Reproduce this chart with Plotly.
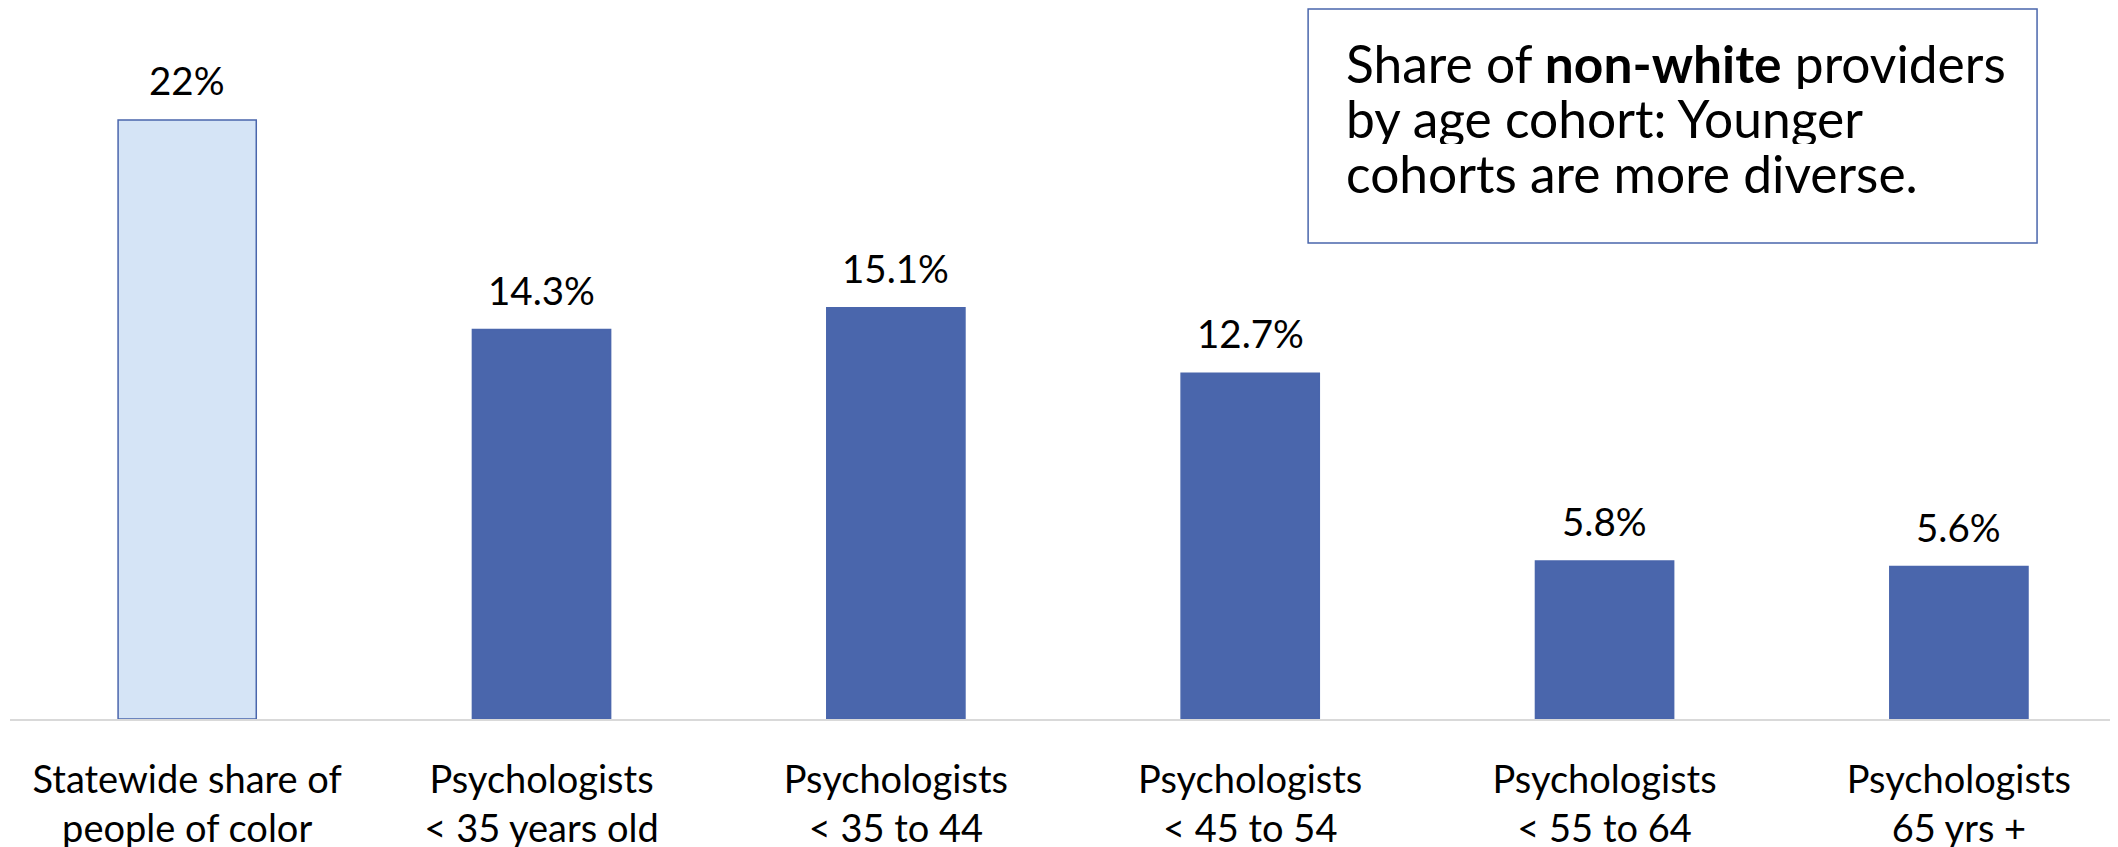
import plotly.graph_objects as go

categories = [
    "Statewide share of<br>people of color",
    "Psychologists<br>< 35 years old",
    "Psychologists<br>< 35 to 44",
    "Psychologists<br>< 45 to 54",
    "Psychologists<br>< 55 to 64",
    "Psychologists<br>65 yrs +",
]
values = [22, 14.3, 15.1, 12.7, 5.8, 5.6]
value_labels = ["22%", "14.3%", "15.1%", "12.7%", "5.8%", "5.6%"]
fill_colors = ["#D5E4F6", "#4A66AC", "#4A66AC", "#4A66AC", "#4A66AC", "#4A66AC"]
line_colors = ["#4A66AC", "#4A66AC", "#4A66AC", "#4A66AC", "#4A66AC", "#4A66AC"]
box_lines = [
    "Share of <b>non-white</b> providers",
    "by age cohort: Younger",
    "cohorts are more diverse.",
]
box_line_y = [0.9227, 0.8453, 0.7679]

FONT = "Lato"

fig = go.Figure()
fig.add_trace(go.Bar(
    x=categories,
    y=values,
    marker=dict(color=fill_colors, line=dict(color=line_colors, width=1.5)),
    width=0.39,
    hoverinfo="skip",
))

for c, v, t in zip(categories, values, value_labels):
    fig.add_annotation(x=c, y=v, text=t, showarrow=False, xref="x", yref="y",
                       yanchor="bottom", yshift=15,
                       font=dict(family=FONT, size=38.5, color="#000000"))

# text box
fig.add_shape(type="rect", xref="paper", yref="paper",
              x0=0.6158, x1=0.9616, y0=0.6695, y1=0.9986,
              line=dict(color="#4A66AC", width=1.5), fillcolor="white")
for line, ly in zip(box_lines, box_line_y):
    fig.add_annotation(xref="paper", yref="paper", x=0.6333, y=ly,
                       xanchor="left", yanchor="middle", align="left", valign="middle",
                       showarrow=False, height=52, borderpad=0,
                       text=line,
                       font=dict(family=FONT, size=51.5, color="#000000"))

fig.update_layout(
    width=2110, height=839,
    margin=dict(l=2, r=0, t=0, b=128),
    paper_bgcolor="white", plot_bgcolor="white",
    showlegend=False,
    font=dict(family=FONT, size=38.5, color="#000000"),
    xaxis=dict(
        range=[-0.5, 5.449],
        showgrid=False, zeroline=False,
        showline=True, linecolor="#D9D9D9", linewidth=2,
        ticks="", tickfont=dict(family=FONT, size=38, color="#000000"),
        ticklabelstandoff=26,
        automargin=False,
    ),
    yaxis=dict(range=[0, 26.11], visible=False),
)

fig.write_html("out.html")
